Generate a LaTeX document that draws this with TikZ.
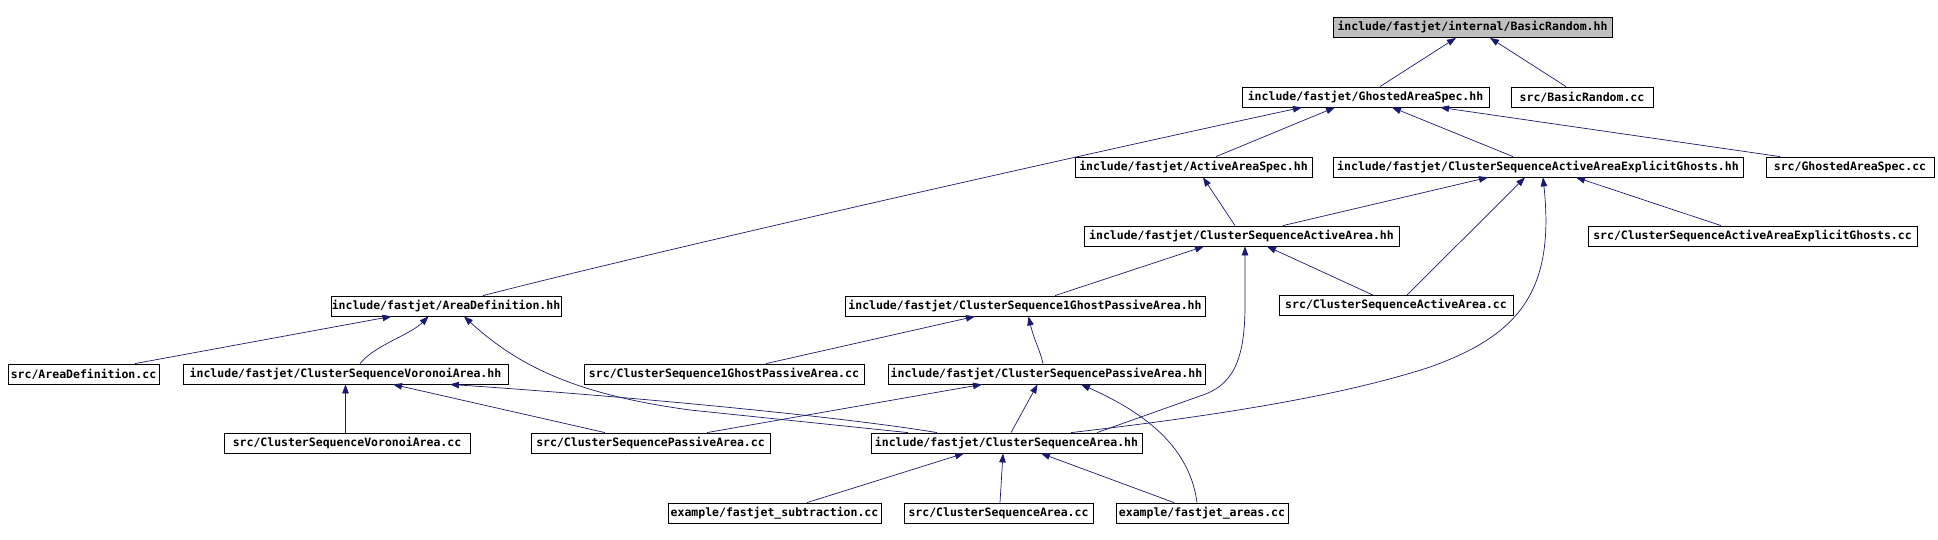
\documentclass[tikz,border=0pt]{standalone}
\usepackage{fontspec}
\newfontfamily\depfont{DejaVu Sans Mono}
\usetikzlibrary{arrows.meta}

\definecolor{edgeblue}{HTML}{191970}
\definecolor{rootgray}{HTML}{BFBFBF}

\tikzset{
    file/.style={draw=black, fill=white, line width=0.8pt, inner sep=0pt,
        minimum height=20pt, font=\depfont\bfseries\fontsize{11.5pt}{12pt}\selectfont},
    rootfile/.style={file, fill=rootgray},
    incl/.style={{Triangle[length=9pt,width=6.5pt]}-, draw=edgeblue, line width=0.7pt},
}

\begin{document}
\begin{tikzpicture}[x=1pt, y=-1pt]
    \useasboundingbox (0,0) rectangle (1938,540);

    % files
    \node[rootfile, minimum width=279pt] (basicrandom_hh) at (1472.5, 27.5) {include/fastjet/internal/BasicRandom.hh};
    \node[file, minimum width=142pt] (basicrandom_cc) at (1582, 97) {src/BasicRandom.cc};
    \node[file, minimum width=247pt] (ghosted_hh) at (1365.5, 97) {include/fastjet/GhostedAreaSpec.hh};
    \node[file, minimum width=237pt] (activespec_hh) at (1193.5, 167) {include/fastjet/ActiveAreaSpec.hh};
    \node[file, minimum width=410pt] (explicit_hh) at (1538, 167) {include/fastjet/ClusterSequenceActiveAreaExplicitGhosts.hh};
    \node[file, minimum width=168pt] (ghosted_cc) at (1850, 167) {src/GhostedAreaSpec.cc};
    \node[file, minimum width=315pt] (activearea_hh) at (1241.5, 236) {include/fastjet/ClusterSequenceActiveArea.hh};
    \node[file, minimum width=329pt] (explicit_cc) at (1752.5, 236) {src/ClusterSequenceActiveAreaExplicitGhosts.cc};
    \node[file, minimum width=230pt] (areadef_hh) at (446, 306) {include/fastjet/AreaDefinition.hh};
    \node[file, minimum width=360pt] (onepassive_hh) at (1025, 306) {include/fastjet/ClusterSequence1GhostPassiveArea.hh};
    \node[file, minimum width=234pt] (activearea_cc) at (1396, 305.5) {src/ClusterSequenceActiveArea.cc};
    \node[file, minimum width=151pt] (areadef_cc) at (83.5, 374) {src/AreaDefinition.cc};
    \node[file, minimum width=325pt] (voronoi_hh) at (345.5, 374) {include/fastjet/ClusterSequenceVoronoiArea.hh};
    \node[file, minimum width=280pt] (onepassive_cc) at (724, 374) {src/ClusterSequence1GhostPassiveArea.cc};
    \node[file, minimum width=317pt] (passive_hh) at (1046.5, 374) {include/fastjet/ClusterSequencePassiveArea.hh};
    \node[file, minimum width=246pt] (voronoi_cc) at (347, 443) {src/ClusterSequenceVoronoiArea.cc};
    \node[file, minimum width=239pt] (passive_cc) at (650.5, 443) {src/ClusterSequencePassiveArea.cc};
    \node[file, minimum width=271pt] (csarea_hh) at (1006.5, 443) {include/fastjet/ClusterSequenceArea.hh};
    \node[file, minimum width=213pt] (subtraction_cc) at (774.5, 513) {example/fastjet\_subtraction.cc};
    \node[file, minimum width=189pt] (csarea_cc) at (998.5, 513) {src/ClusterSequenceArea.cc};
    \node[file, minimum width=172pt] (areas_cc) at (1202, 513) {example/fastjet\_areas.cc};

    % include edges, arrow at the included file
    \draw[incl] ([xshift=-16.5pt]basicrandom_hh.south) -- ([xshift=14.5pt]ghosted_hh.north);
    \draw[incl] ([xshift=17.5pt]basicrandom_hh.south) -- ([xshift=-16pt]basicrandom_cc.north);

    \draw[incl] ([xshift=-63.5pt]ghosted_hh.south) .. controls (1150,140) and (700,240) .. ([xshift=37pt]areadef_hh.north);
    \draw[incl] ([xshift=-30.5pt]ghosted_hh.south) -- ([xshift=22.5pt]activespec_hh.north);
    \draw[incl] ([xshift=26.5pt]ghosted_hh.south) -- ([xshift=-25pt]explicit_hh.north);
    \draw[incl] ([xshift=74.5pt]ghosted_hh.south) -- ([xshift=-70pt]ghosted_cc.north);

    \draw[incl] ([xshift=9.5pt]activespec_hh.south) -- ([xshift=-6.5pt]activearea_hh.north);

    \draw[incl] ([xshift=-50pt]explicit_hh.south) -- ([xshift=41.5pt]activearea_hh.north);
    \draw[incl] ([xshift=-13pt]explicit_hh.south) -- ([xshift=11pt]activearea_cc.north);
    \draw[incl] ([xshift=5pt]explicit_hh.south) .. controls (1555,290) and (1520,335) .. (1430,367)
        .. controls (1330,400) and (1180,420) .. ([xshift=64.5pt]csarea_hh.north);
    \draw[incl] ([xshift=38pt]explicit_hh.south) -- ([xshift=-31.5pt]explicit_cc.north);

    \draw[incl] ([xshift=-37.5pt]activearea_hh.south) -- ([xshift=30pt]onepassive_hh.north);
    \draw[incl] ([xshift=3.5pt]activearea_hh.south) -- (1245,305) .. controls (1245,362) and (1232,386) .. (1200,396)
        -- ([xshift=90.5pt]csarea_hh.north);
    \draw[incl] ([xshift=25.5pt]activearea_hh.south) -- ([xshift=-23pt]activearea_cc.north);

    \draw[incl] ([xshift=-54.5pt]areadef_hh.south) -- ([xshift=51.5pt]areadef_cc.north);
    \draw[incl] ([xshift=-17.5pt]areadef_hh.south) .. controls (410,335) and (375,345) .. ([xshift=14.5pt]voronoi_hh.north);
    \draw[incl] ([xshift=18pt]areadef_hh.south) .. controls (520,368) and (580,395) .. (690,410)
        -- ([xshift=-98.5pt]csarea_hh.north);

    \draw[incl] ([xshift=-50pt]onepassive_hh.south) -- ([xshift=42pt]onepassive_cc.north);
    \draw[incl] ([xshift=3.5pt]onepassive_hh.south) .. controls (1034,340) and (1040,350) .. ([xshift=-3.5pt]passive_hh.north);

    \draw[incl] (voronoi_hh.south) -- ([xshift=-1.5pt]voronoi_cc.north);
    \draw[incl] ([xshift=47.5pt]voronoi_hh.south) -- ([xshift=-45.5pt]passive_cc.north);
    \draw[incl] ([xshift=104.5pt]voronoi_hh.south) .. controls (650,398) and (850,418) .. ([xshift=-69.5pt]csarea_hh.north);

    \draw[incl] ([xshift=-64.5pt]passive_hh.south) -- ([xshift=56.5pt]passive_cc.north);
    \draw[incl] ([xshift=-9pt]passive_hh.south) -- ([xshift=4.5pt]csarea_hh.north);
    \draw[incl] ([xshift=34.5pt]passive_hh.south) .. controls (1150,415) and (1190,450) .. ([xshift=-5pt]areas_cc.north);

    \draw[incl] ([xshift=-42.5pt]csarea_hh.south) -- ([xshift=32.5pt]subtraction_cc.north);
    \draw[incl] ([xshift=-3.5pt]csarea_hh.south) -- ([xshift=1.5pt]csarea_cc.north);
    \draw[incl] ([xshift=34.5pt]csarea_hh.south) -- ([xshift=-28pt]areas_cc.north);

\end{tikzpicture}
\end{document}
